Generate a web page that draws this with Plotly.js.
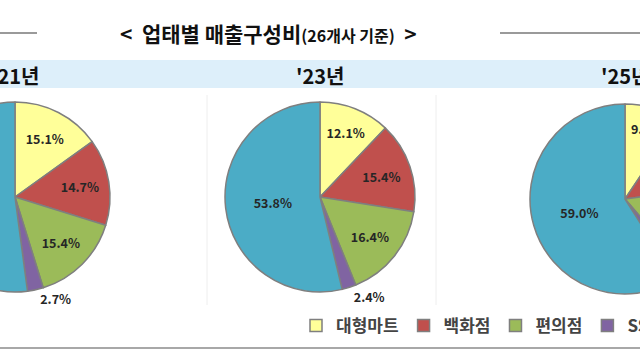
<!DOCTYPE html>
<html>
<head>
<meta charset="utf-8">
<script src="https://cdn.plot.ly/plotly-3.0.1.min.js"></script>
<style>
  html, body { margin:0; padding:0; width:640px; height:360px; overflow:hidden; background:#fff; }
  #chart { position:absolute; left:-180px; top:0; width:1000px; height:360px; }
</style>
</head>
<body>
<div id="chart"></div>
<script>
// ---- data ----
const categories = ['대형마트', '백화점', '편의점', 'SSM', '온라인'];
const years = ["'21년", "'23년", "'25년"];
const share21 = [15.1, 14.7, 15.4, 2.7, 52.1];
const share23 = [12.1, 15.4, 16.4, 2.4, 53.8];
const share25 = [9.4, 13.5, 15.8, 2.3, 59.0];
const titleMain = '업태별 매출구성비';
const titleSub = '(26개사 기준)';

// ---- styling ----
const colors = ['#FFFF99', '#C0504D', '#9BBB59', '#8064A2', '#4BACC6'];
const W = 1000, H = 360, OFF = 180;           // plot is wider than the window, shifted left
const px = x => (x + OFF) / W;                 // window px -> paper x
const py = y => 1 - y / H;                     // window px -> paper y
const centers = [[15, 197], [320, 197], [625, 199]];
const R = 95;
const series = [share21, share23, share25];
const kfont = '"Noto Sans CJK KR", "Noto Sans", sans-serif';

const traces = series.map((vals, i) => {
  const [cx, cy] = centers[i];
  return {
    type: 'pie',
    labels: categories,
    values: vals,
    sort: false,
    direction: 'clockwise',
    rotation: 0,
    domain: { x: [px(cx - R), px(cx + R)], y: [py(cy + R), py(cy - R)] },
    marker: { colors: colors, line: { color: '#7f7f7f', width: 1.5 } },
    texttemplate: '%{value:.1f}%',
    textposition: vals.map(v => v < 5 ? 'outside' : 'inside'),
    insidetextorientation: 'horizontal',
    textfont: { family: kfont, size: 12.5, color: '#262626', weight: 'bold' },
    hoverinfo: 'skip',
    showlegend: i === 0
  };
});

const shapes = [
  // header band
  { type: 'rect', xref: 'paper', yref: 'paper', x0: 0, x1: 1, y0: py(88), y1: py(60),
    fillcolor: '#DDEFFA', line: { width: 0 }, layer: 'below' },
  // title side rules
  { type: 'line', xref: 'paper', yref: 'paper', x0: 0, x1: px(37), y0: py(33), y1: py(33),
    line: { color: '#9a9a9a', width: 2 } },
  { type: 'line', xref: 'paper', yref: 'paper', x0: px(500), x1: 1, y0: py(33), y1: py(33),
    line: { color: '#9a9a9a', width: 2 } },
  // bottom rule
  { type: 'line', xref: 'paper', yref: 'paper', x0: 0, x1: 1, y0: py(348), y1: py(348),
    line: { color: '#a8a8a8', width: 2 } },
  // faint separators
  { type: 'line', xref: 'paper', yref: 'paper', x0: px(207), x1: px(207), y0: py(95), y1: py(305),
    line: { color: '#eeeeee', width: 1 }, layer: 'below' },
  { type: 'line', xref: 'paper', yref: 'paper', x0: px(436), x1: px(436), y0: py(95), y1: py(305),
    line: { color: '#eeeeee', width: 1 }, layer: 'below' }
];

const annotations = [
  { xref: 'paper', yref: 'paper', x: px(268), y: py(33), xanchor: 'center', yanchor: 'middle',
    showarrow: false,
    text: '&lt;  ' + titleMain + '<span style="font-size:16px">' + titleSub + '</span>  &gt;',
    font: { family: kfont, size: 21, color: '#111', weight: 'bold' } }
].concat(years.map((t, i) => ({
  xref: 'paper', yref: 'paper', x: px(centers[i][0]), y: py(75), xanchor: 'center', yanchor: 'middle',
  showarrow: false, text: t, font: { family: kfont, size: 20, color: '#111', weight: 'bold' }
})));

const layout = {
  width: W, height: H,
  margin: { l: 0, r: 0, t: 0, b: 0 },
  paper_bgcolor: '#ffffff',
  showlegend: true,
  legend: {
    orientation: 'h', x: px(296), y: py(326), xanchor: 'left', yanchor: 'middle',
    font: { family: kfont, size: 17, color: '#444444', weight: 'bold' },
    itemwidth: 30, bgcolor: 'rgba(0,0,0,0)', traceorder: 'normal'
  },
  shapes: shapes,
  annotations: annotations
};

Plotly.newPlot('chart', traces, layout, { staticPlot: true, displayModeBar: false });
</script>
</body>
</html>
